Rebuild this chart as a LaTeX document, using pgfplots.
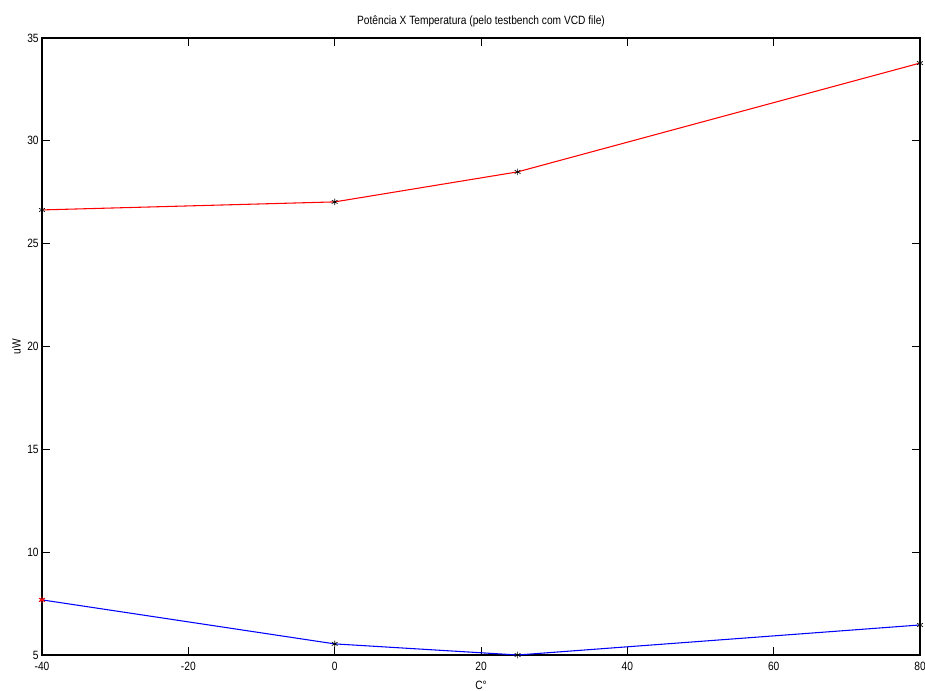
\documentclass[border=0pt]{standalone}
\usepackage{pgfplots}
\pgfplotsset{compat=1.18}
\usepackage{fontspec}
\setmainfont{Liberation Sans}[FakeStretch=0.85]
\begin{document}
\begin{tikzpicture}
\begin{axis}[
  name=ax,
  scale only axis,
  width=658.5pt, height=462.75pt,
  xmin=-40, xmax=80, ymin=5, ymax=35,
  xtick={-40,-20,0,20,40,60,80},
  ytick={5,10,15,20,25,30,35},
  tick align=inside,
  major tick length=6pt,
  tick style={black, line width=0.6pt},
  axis line style={black, line width=0.9pt},
  tick label style={font=\fontsize{9}{10}\selectfont},
  /pgf/number format/assume math mode=true,
  title={Potência X Temperatura (pelo testbench com VCD file)},
  title style={font=\fontsize{9}{10}\selectfont, yshift=-1pt},
  xlabel={C°},
  ylabel={uW},
  xlabel style={font=\fontsize{9}{10}\selectfont, yshift=-1pt},
  ylabel style={font=\fontsize{9}{10}\selectfont, yshift=-2pt},
  xticklabel style={yshift=-2pt},
  yticklabel style={xshift=1pt},
  clip=false,
]
\addplot[red, line width=0.8pt, mark=asterisk, mark size=2.5pt,
  mark options={black, line width=0.5pt}]
  coordinates {(-40,26.64) (0,27.03) (25,28.49) (80,33.78)};
\addplot[blue, line width=0.8pt, mark=asterisk, mark size=2.5pt,
  mark options={black, line width=0.5pt}]
  coordinates {(-40,7.68) (0,5.54) (25,5.0) (80,6.46)};
\addplot[only marks, red, mark=asterisk, mark size=2.5pt,
  mark options={red, line width=0.7pt}]
  coordinates {(-40,7.68)};
\end{axis}
\pgfresetboundingbox
\path (ax.south west) ++(-31.5pt,-27pt) rectangle ++(693.75pt,518.25pt);
\end{tikzpicture}
\end{document}
